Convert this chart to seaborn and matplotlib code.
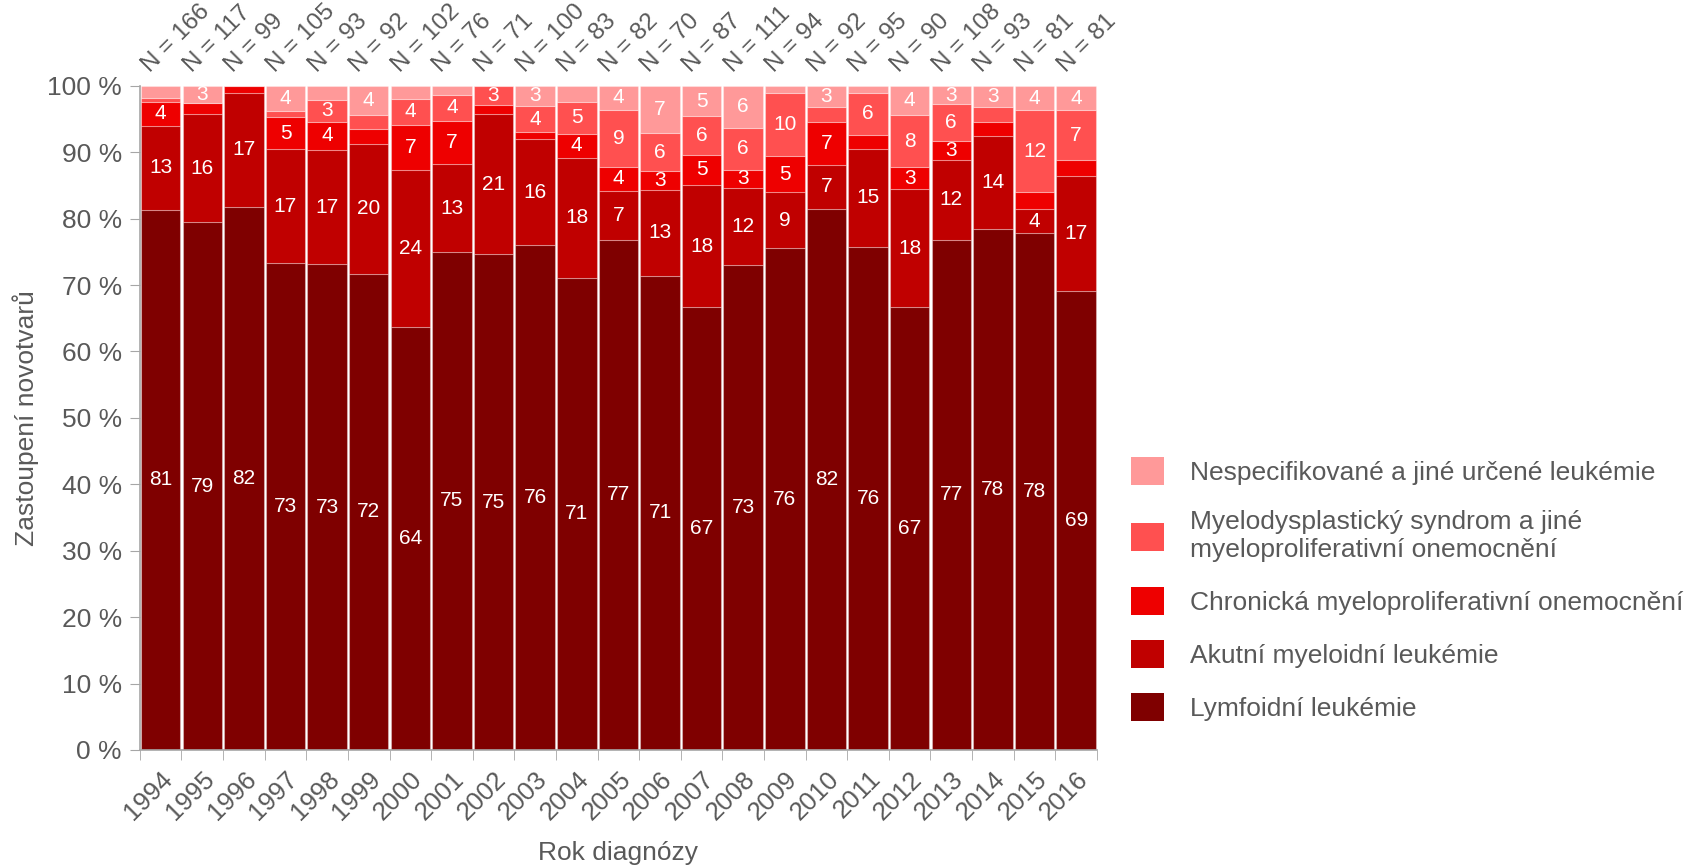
import numpy as np
import pandas as pd
import matplotlib
matplotlib.use("Agg")
import matplotlib.pyplot as plt
import seaborn as sns
from matplotlib.patches import Patch

years = [str(y) for y in range(1994, 2017)]
n_total = [166, 117, 99, 105, 93, 92, 102, 76, 71, 100, 83, 82, 70, 87, 111, 94, 92, 95, 90, 108, 93, 81, 81]
lymfoidni = [135, 93, 81, 77, 68, 66, 65, 57, 53, 76, 59, 63, 50, 58, 81, 71, 75, 72, 60, 83, 73, 63, 56]
akutni_myeloidni = [21, 19, 17, 18, 16, 18, 24, 10, 15, 16, 15, 6, 9, 16, 13, 8, 6, 14, 16, 13, 13, 3, 14]
chronicka_myelo = [6, 2, 1, 5, 4, 2, 7, 5, 1, 1, 3, 3, 2, 4, 3, 5, 6, 2, 3, 3, 2, 2, 2]
myelodysplasticky = [1, 0, 0, 1, 3, 2, 4, 3, 2, 4, 4, 7, 4, 5, 7, 9, 2, 6, 7, 6, 2, 10, 6]
nespecifikovane = [3, 3, 0, 4, 2, 4, 2, 1, 0, 3, 2, 3, 5, 4, 7, 1, 3, 1, 4, 3, 3, 3, 3]

series_names = [
    "Lymfoidní leukémie",
    "Akutní myeloidní leukémie",
    "Chronická myeloproliferativní onemocnění",
    "Myelodysplastický syndrom a jiné\nmyeloproliferativní onemocnění",
    "Nespecifikované a jiné určené leukémie",
]
series_counts = [lymfoidni, akutni_myeloidni, chronicka_myelo, myelodysplasticky, nespecifikovane]
colors = ["#7F0000", "#C00000", "#EE0000", "#FF5050", "#FF9999"]

sns.set_style("white")
plt.rcParams["font.family"] = ["Liberation Sans", "DejaVu Sans"]
GRAY = "#595959"

fig = plt.figure(figsize=(16.85, 8.67), dpi=100)
ax = fig.add_axes([0.083, 0.135, 0.568, 0.766])

n_arr = np.array(n_total, dtype=float)
bottom = np.zeros(len(years))
for name, counts, col in zip(series_names, series_counts, colors):
    pct = np.array(counts, dtype=float) / n_arr * 100
    df = pd.DataFrame({"rok": years, "pct": pct})
    sns.barplot(data=df, x="rok", y="pct", bottom=bottom, color=col, saturation=1,
                width=0.95, errorbar=None, ax=ax, edgecolor=(1, 1, 1, 0.3), linewidth=0.8)
    for i, v in enumerate(pct):
        if round(v) >= 3:
            ax.text(i, bottom[i] + v / 2, f"{round(v):d}", ha="center", va="center",
                    color="white", fontsize=15)
    bottom = bottom + pct

# N labels
for i, n in enumerate(n_total):
    ax.text(i - 0.17, 101.4, f"N = {n}", rotation=45, rotation_mode="anchor",
            ha="left", va="bottom", color=GRAY, fontsize=17.5, clip_on=False)

ax.set_xlim(-0.5, len(years) - 0.5)
ax.set_ylim(0, 100)
ax.set_yticks(np.arange(0, 101, 10))
ax.set_yticklabels([f"{v} %" for v in range(0, 101, 10)], color=GRAY, fontsize=19)
ax.set_xticks(range(len(years)))
ax.set_xticklabels(years, rotation=45, ha="right", va="top", rotation_mode="anchor",
                   color=GRAY, fontsize=18.5)
ax.set_xticks(np.arange(-0.5, len(years), 1), minor=True)
ax.tick_params(axis="x", which="major", length=0, pad=12)
ax.tick_params(axis="x", which="minor", length=7, color="#A6A6A6", direction="out", bottom=True)
ax.tick_params(axis="y", length=7, color="#A6A6A6", direction="out", left=True, pad=6)

for s in ["top", "right"]:
    ax.spines[s].set_visible(False)
for s in ["left", "bottom"]:
    ax.spines[s].set_color("#A6A6A6")
    ax.spines[s].set_linewidth(1.2)

ax.set_xlabel("Rok diagnózy", color=GRAY, fontsize=19, labelpad=12)
ax.set_ylabel("Zastoupení novotvarů", color=GRAY, fontsize=19, labelpad=6)

handles = [Patch(facecolor=c, edgecolor="none", label=n) for n, c in zip(series_names, colors)]
leg = fig.legend(handles=handles[::-1], loc="upper left", bbox_to_anchor=(0.657, 0.5),
                 frameon=False, fontsize=19, handlelength=1.25, handleheight=1.25,
                 handletextpad=1.0, labelspacing=0.95, labelcolor=GRAY)

fig.savefig("out.png", dpi=100)
